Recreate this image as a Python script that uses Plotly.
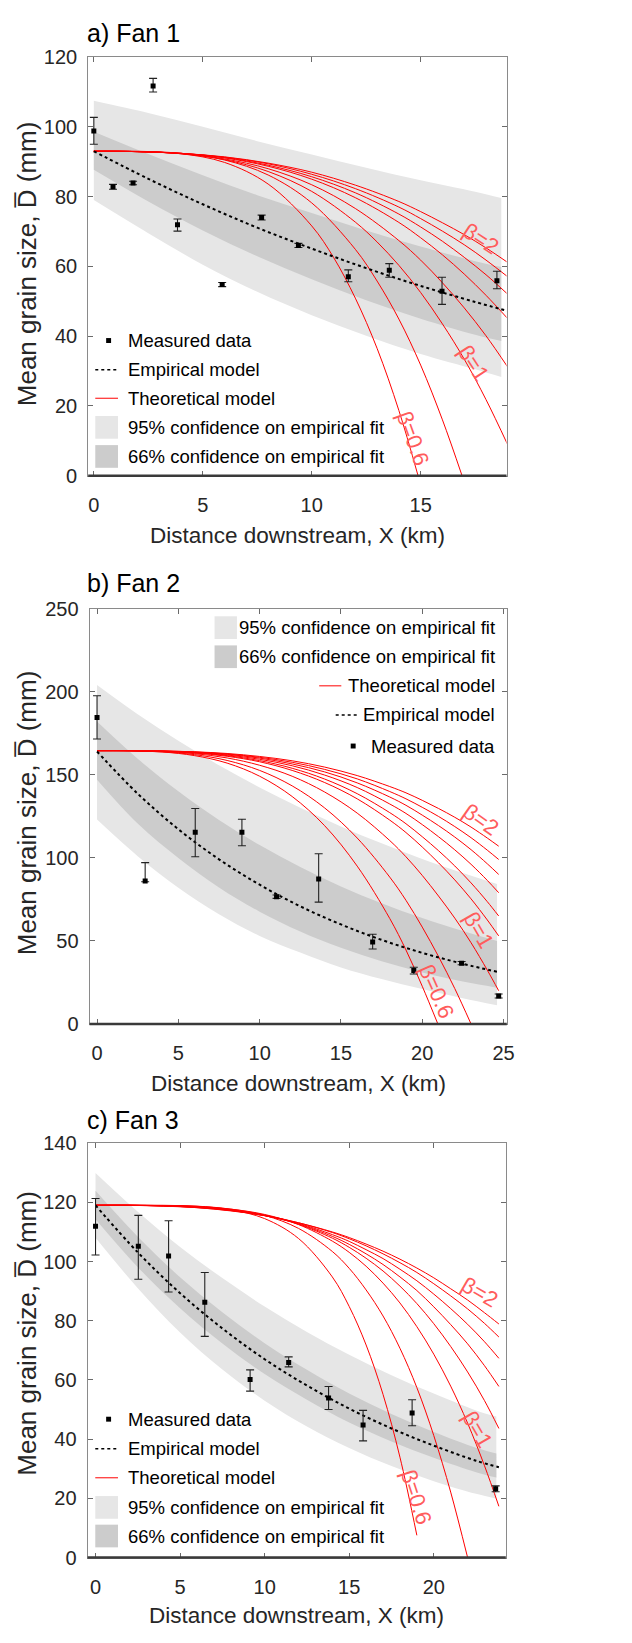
import plotly.graph_objects as go

W, H = 632, 1643

# ---------------- Fan 1 (panel a) ----------------
fan1_x = [0.0, 0.88, 1.8, 2.72, 3.84, 5.89, 7.7, 9.39, 11.68, 13.56, 15.98, 18.5]
fan1_d = [98.8, 82.8, 83.9, 111.7, 71.9, 54.8, 74.0, 66.0, 57.0, 58.9, 52.9, 55.9]
fan1_err_plus = [3.9, 0.7, 0.5, 2.2, 1.7, 0.6, 0.7, 0.6, 2.0, 1.9, 4.0, 2.7]
fan1_err_minus = [3.8, 0.7, 0.5, 1.7, 1.8, 0.6, 0.7, 0.6, 1.4, 2.0, 3.8, 2.3]
fan1_emp_x = [0, 2.5, 5, 7.5, 10, 12.5, 15, 17.5, 19]
fan1_emp_d = [93.0, 85.1, 77.8, 71.1, 65.1, 59.5, 54.4, 49.8, 47.2]
fan1_band_x = [0, 2.5, 5, 7.5, 10, 12.5, 15, 17.5, 18.7]
fan1_ci95_hi = [107.5, 104.0, 100.0, 95.9, 92.1, 88.3, 84.7, 81.4, 79.6]
fan1_ci95_lo = [79.0, 69.5, 60.5, 52.7, 46.0, 40.1, 34.9, 30.5, 28.3]
fan1_ci66_hi = [98.6, 92.2, 86.1, 80.4, 75.3, 70.3, 65.7, 61.5, 59.8]
fan1_ci66_lo = [87.7, 78.6, 70.3, 62.9, 56.3, 50.3, 45.0, 40.4, 38.6]
fan1_theory_x = [
    [0, 2, 4, 6, 8, 10, 11, 12, 13, 14, 14.88],
    [0, 2, 4, 6, 8, 10, 12, 13, 14, 15, 16, 16.9],
    [0, 2, 4, 6, 8, 10, 12, 13, 14, 15, 16, 17, 18, 19],
    [0, 2, 4, 6, 8, 10, 12, 14, 15, 16, 17, 18, 19],
    [0, 2, 4, 6, 8, 10, 12, 14, 15, 16, 17, 18, 19],
    [0, 2, 4, 6, 8, 10, 12, 14, 15, 16, 17, 18, 19],
    [0, 2, 4, 6, 8, 10, 12, 14, 15, 16, 17, 18, 19],
    [0, 2, 4, 6, 8, 10, 12, 14, 15, 16, 17, 18, 19],
]
fan1_theory_d = [
    [93, 92.9, 92.3, 89.8, 83.6, 71.6, 62.6, 50.9, 36.5, 18.7, 0],
    [93, 93.0, 92.4, 90.5, 86.2, 78.2, 64.9, 55.8, 44.9, 31.7, 16.0, 0],
    [93, 92.9, 92.3, 90.6, 87.2, 81.5, 72.7, 67.0, 60.3, 52.5, 43.5, 33.4, 21.8, 8.8],
    [93, 92.9, 92.3, 90.8, 88.0, 83.4, 76.6, 67.4, 61.8, 55.3, 48.1, 40.1, 31.1],
    [93, 92.9, 92.4, 91.1, 88.7, 85.0, 79.7, 72.6, 68.2, 63.3, 57.8, 51.7, 45.0],
    [93, 92.9, 92.4, 91.2, 89.0, 85.7, 81.1, 75.0, 71.3, 67.2, 62.6, 57.6, 52.0],
    [93, 92.9, 92.4, 91.3, 89.4, 86.4, 82.3, 77.0, 73.7, 70.1, 66.2, 61.8, 57.0],
    [93, 92.9, 92.4, 91.4, 89.6, 87.0, 83.3, 78.6, 75.7, 72.5, 69.1, 65.3, 61.1],
]

# ---------------- Fan 2 (panel b) ----------------
fan2_x = [0.0, 2.96, 6.04, 8.91, 11.04, 13.63, 16.95, 19.48, 22.42, 24.7]
fan2_d = [184.5, 86.1, 115.4, 115.4, 76.6, 87.3, 49.3, 32.1, 36.6, 16.8]
fan2_err_plus = [13.0, 11.0, 14.3, 7.8, 1.0, 15.1, 4.7, 2.0, 1.0, 1.2]
fan2_err_minus = [13.0, 0.5, 14.8, 8.1, 1.0, 14.0, 4.2, 2.0, 1.0, 1.2]
fan2_emp_x = [0, 2.5, 5, 7.5, 10, 12.5, 15, 17.5, 20, 22.5, 24.7]
fan2_emp_d = [164.0, 138.6, 117.2, 99.1, 83.8, 70.8, 59.9, 50.6, 42.8, 36.2, 31.2]
fan2_band_x = [0, 2.5, 5, 7.5, 10, 12.5, 15, 17.5, 20, 22.5, 24.6]
fan2_ci95_hi = [204.0, 186.4, 170.4, 155.7, 142.3, 130.1, 118.9, 108.7, 99.3, 90.8, 84.2]
fan2_ci95_lo = [123.0, 101.0, 82.0, 66.0, 53.0, 43.0, 34.0, 27.0, 21.0, 15.5, 11.3]
fan2_ci66_hi = [182.0, 159.6, 140.0, 122.8, 107.7, 94.5, 82.8, 72.7, 63.7, 55.9, 49.9]
fan2_ci66_lo = [147.0, 120.6, 99.9, 82.2, 67.6, 55.7, 45.8, 37.7, 31.0, 25.5, 21.8]
fan2_grid = [0, 2, 4, 6, 8, 10, 12, 14, 16, 18, 19, 20, 21, 22, 23, 24, 24.7]
fan2_theory_x = [
    [0, 2, 4, 6, 8, 10, 12, 14, 16, 18, 19, 20, 20.96],
    [0, 2, 4, 6, 8, 10, 12, 14, 16, 18, 19, 20, 21, 22, 23],
    fan2_grid, fan2_grid, fan2_grid, fan2_grid, fan2_grid, fan2_grid, fan2_grid,
]
fan2_theory_d = [
    [164.5, 164.4, 163.7, 161.5, 157.0, 149.1, 136.9, 119.3, 95.0, 63.5, 44.5, 22.7, 0],
    [164.5, 164.4, 163.8, 162.1, 158.6, 152.6, 143.3, 130.0, 111.9, 88.4, 74.4, 58.3, 40.6, 21.3, 0],
    [164.5, 164.4, 164.0, 162.7, 160.1, 155.7, 149.1, 139.6, 126.9, 110.4, 100.6, 89.4, 77.0, 63.7, 48.9, 32.4, 20.0],
    [164.5, 164.5, 164.1, 163.1, 161.1, 157.8, 152.6, 145.3, 135.5, 122.7, 115.2, 106.5, 97.0, 86.7, 75.3, 62.6, 53.0],
    [164.5, 164.5, 164.2, 163.3, 161.5, 158.5, 153.9, 147.4, 138.6, 127.2, 120.5, 112.7, 104.3, 95.1, 84.9, 73.6, 65.0],
    [164.5, 164.5, 164.2, 163.4, 161.9, 159.3, 155.4, 149.8, 142.3, 132.4, 126.7, 120.0, 112.7, 104.8, 96.1, 86.4, 79.0],
    [164.5, 164.5, 164.2, 163.6, 162.3, 160.0, 156.5, 151.7, 145.1, 136.6, 131.6, 125.7, 119.4, 112.5, 104.9, 96.4, 90.0],
    [164.5, 164.5, 164.3, 163.7, 162.5, 160.5, 157.5, 153.2, 147.5, 139.9, 135.5, 130.4, 124.9, 118.8, 112.1, 104.6, 99.0],
    [164.5, 164.5, 164.3, 163.8, 162.8, 161.0, 158.4, 154.6, 149.5, 142.9, 139.1, 134.6, 129.7, 124.4, 118.5, 111.9, 107.0],
]

# ---------------- Fan 3 (panel c) ----------------
fan3_x = [0.0, 2.53, 4.32, 6.46, 9.14, 11.42, 13.78, 15.82, 18.72, 23.66]
fan3_d = [111.9, 105.2, 101.9, 86.2, 60.1, 65.9, 53.9, 44.8, 48.8, 23.2]
fan3_err_plus = [9.4, 10.4, 11.9, 10.1, 3.3, 1.9, 3.9, 4.9, 4.5, 1.0]
fan3_err_minus = [9.7, 11.2, 12.2, 11.5, 3.9, 1.5, 3.9, 5.4, 4.3, 1.0]
fan3_emp_x = [0, 2.5, 5, 7.5, 10, 12.5, 15, 17.5, 20, 22.5, 23.85]
fan3_emp_d = [119.0, 103.1, 89.3, 77.4, 67.0, 58.1, 50.3, 43.6, 37.8, 32.7, 30.5]
fan3_band_x = [0, 2.5, 5, 7.5, 10, 12.5, 15, 17.5, 20, 22.5, 23.7]
fan3_ci95_hi = [129.9, 116.8, 104.9, 94.4, 84.8, 76.2, 68.5, 61.6, 55.4, 49.7, 47.6]
fan3_ci95_lo = [108.0, 91.0, 76.0, 63.5, 53.0, 44.3, 37.0, 30.9, 25.8, 21.5, 19.9]
fan3_ci66_hi = [123.9, 108.4, 94.7, 82.9, 72.4, 63.4, 55.4, 48.5, 42.4, 37.1, 35.1]
fan3_ci66_lo = [114.3, 98.1, 84.2, 72.3, 62.0, 53.3, 45.6, 39.2, 33.7, 28.8, 27.0]
fan3_grid = [0, 2, 4, 6, 8, 10, 12, 14, 15, 16, 17, 18, 19, 20, 21, 22, 23, 23.85]
fan3_theory_x = [
    [0, 2, 4, 6, 8, 10, 12, 14, 15, 16, 17, 18, 19],
    [0, 2, 4, 6, 8, 10, 12, 14, 15, 16, 17, 18, 19, 20, 21, 22],
    fan3_grid, fan3_grid, fan3_grid, fan3_grid, fan3_grid, fan3_grid,
]
fan3_theory_d = [
    [119, 119, 119, 118.65, 117.5, 114.5, 107.8, 94.8, 84.8, 71.8, 55.1, 33.9, 7.5],
    [119, 119, 118.9, 118.7, 117.7, 115.6, 111.2, 103.4, 97.7, 90.4, 81.6, 70.7, 57.4, 41.2, 22.1, 0],
    [119, 119, 118.9, 118.6, 117.7, 115.9, 112.5, 106.9, 103.1, 98.4, 92.7, 86.0, 78.0, 68.7, 57.9, 45.4, 31.0, 17.3],
    [119, 119, 118.9, 118.5, 117.5, 115.7, 112.6, 107.9, 104.8, 101.1, 96.8, 91.7, 85.8, 79.0, 71.3, 62.7, 53.0, 43.6],
    [119, 119, 118.8, 118.4, 117.3, 115.5, 112.7, 108.5, 105.8, 102.6, 99.0, 94.8, 90.2, 84.7, 78.7, 72.2, 64.8, 57.8],
    [119, 119, 118.8, 118.3, 117.3, 115.5, 112.9, 109.1, 106.8, 104.0, 101.0, 97.4, 93.5, 89.0, 84.1, 78.8, 72.9, 67.3],
    [119, 119, 118.8, 118.2, 117.2, 115.6, 113.1, 109.8, 107.7, 105.3, 102.6, 99.6, 96.3, 92.5, 88.4, 84.0, 79.1, 74.5],
    [119, 119, 118.7, 118.2, 117.1, 115.5, 113.1, 110.0, 108.1, 105.9, 103.5, 100.8, 97.8, 94.5, 90.8, 87.0, 82.7, 78.9],
]

# tick labels / ranges
fan1_xticks = [0, 5, 10, 15]
fan1_yticks = [0, 20, 40, 60, 80, 100, 120]
fan2_xticks = [0, 5, 10, 15, 20, 25]
fan2_yticks = [0, 50, 100, 150, 200, 250]
fan3_xticks = [0, 5, 10, 15, 20]
fan3_yticks = [0, 20, 40, 60, 80, 100, 120, 140]

LIGHT = "#e6e6e6"
DARK = "#cccccc"
RED = "#ff0000"
LABEL_RED = "#ff5c5c"
REG = "Liberation Sans, Arial, sans-serif"
TICK_SIZE = 20
LEG_SIZE = 18.5


def pxx(v):
    return v / W


def pxy(v):
    return 1 - v / H


fig = go.Figure()

panels = [
    dict(ax="", x=fan1_x, d=fan1_d, ep=fan1_err_plus, em=fan1_err_minus,
         ex=fan1_emp_x, ed=fan1_emp_d, bx=fan1_band_x,
         h95=fan1_ci95_hi, l95=fan1_ci95_lo, h66=fan1_ci66_hi, l66=fan1_ci66_lo,
         tx=fan1_theory_x, td=fan1_theory_d,
         xdom=(89.3, 513.0), ydom=(471.0, 46.7), xr=[-0.26, 18.94], yr=[0, 120],
         xt=fan1_xticks, yt=fan1_yticks),
    dict(ax="2", x=fan2_x, d=fan2_d, ep=fan2_err_plus, em=fan2_err_minus,
         ex=fan2_emp_x, ed=fan2_emp_d, bx=fan2_band_x,
         h95=fan2_ci95_hi, l95=fan2_ci95_lo, h66=fan2_ci66_hi, l66=fan2_ci66_lo,
         tx=fan2_theory_x, td=fan2_theory_d,
         xdom=(90.7, 513.3), ydom=(1026.7, 605.7), xr=[-0.46, 25.2], yr=[0, 250],
         xt=fan2_xticks, yt=fan2_yticks),
    dict(ax="3", x=fan3_x, d=fan3_d, ep=fan3_err_plus, em=fan3_err_minus,
         ex=fan3_emp_x, ed=fan3_emp_d, bx=fan3_band_x,
         h95=fan3_ci95_hi, l95=fan3_ci95_lo, h66=fan3_ci66_hi, l66=fan3_ci66_lo,
         tx=fan3_theory_x, td=fan3_theory_d,
         xdom=(88.7, 512.3), ydom=(1567.5, 1147.5), xr=[-0.47, 24.26], yr=[0, 140],
         xt=fan3_xticks, yt=fan3_yticks),
]

shapes = []
annotations = []

for p in panels:
    xa = "x" + p["ax"]
    ya = "y" + p["ax"]
    common = dict(xaxis=xa, yaxis=ya, showlegend=False, hoverinfo="skip")
    # 95% band
    fig.add_trace(go.Scatter(x=p["bx"], y=p["l95"], mode="lines", line=dict(width=0, shape="spline"), **common))
    fig.add_trace(go.Scatter(x=p["bx"], y=p["h95"], mode="lines", line=dict(width=0, shape="spline"),
                             fill="tonexty", fillcolor=LIGHT, **common))
    # 66% band
    fig.add_trace(go.Scatter(x=p["bx"], y=p["l66"], mode="lines", line=dict(width=0, shape="spline"), **common))
    fig.add_trace(go.Scatter(x=p["bx"], y=p["h66"], mode="lines", line=dict(width=0, shape="spline"),
                             fill="tonexty", fillcolor=DARK, **common))
    # theoretical curves
    for cx, cd in zip(p["tx"], p["td"]):
        fig.add_trace(go.Scatter(x=cx, y=cd, mode="lines",
                                 line=dict(color=RED, width=1, shape="spline", smoothing=1.0), **common))
    # empirical model
    fig.add_trace(go.Scatter(x=p["ex"], y=p["ed"], mode="lines",
                             line=dict(color="black", width=2, dash="dot", shape="spline"), **common))
    # measured data
    fig.add_trace(go.Scatter(x=p["x"], y=p["d"], mode="markers",
                             marker=dict(symbol="square", size=5, color="black"),
                             error_y=dict(type="data", array=p["ep"], arrayminus=p["em"],
                                          color="#222222", thickness=1.1, width=4),
                             **common))
    axis_common = dict(showgrid=False, zeroline=False, showline=True, linecolor="#8a8a8a",
                       linewidth=1, mirror="ticks", ticks="inside", ticklen=5, tickcolor="#6a6a6a",
                       tickfont=dict(family=REG, size=TICK_SIZE, color="#262626"))
    fig.update_layout(**{
        "xaxis" + p["ax"]: dict(domain=[pxx(p["xdom"][0]), pxx(p["xdom"][1])], range=p["xr"],
                                tickvals=p["xt"], anchor=ya, ticklabelstandoff=11, **axis_common),
        "yaxis" + p["ax"]: dict(domain=[pxy(p["ydom"][0]), pxy(p["ydom"][1])], range=p["yr"],
                                tickvals=p["yt"], anchor=xa, ticklabelstandoff=6, **axis_common),
    })
    # thick bottom axis line
    shapes.append(dict(type="line", xref=xa + " domain", yref=ya + " domain", x0=0, x1=1, y0=0, y1=0,
                       line=dict(color="#3a3a3a", width=2.5)))

# titles, axis labels
titles = [("a) Fan 1", 22.5), ("b) Fan 2", 580.0), ("c) Fan 3", 1124.0)]
for t, yc in titles:
    annotations.append(dict(text=t, x=pxx(86.5), y=pxy(yc), xref="paper", yref="paper",
                            xanchor="left", yanchor="middle", showarrow=False,
                            font=dict(family=REG, size=25, color="black")))
xlabels = [(301.0, 531.7), (302.0, 1087.0), (300.5, 1626.7)]
for xc, yc in xlabels:
    annotations.append(dict(text="Distance downstream, X (km)", x=pxx(xc), y=pxy(yc),
                            xref="paper", yref="paper", xanchor="center", yanchor="middle",
                            showarrow=False, font=dict(family=REG, size=22.5, color="#262626")))
ylabels = [256.0, 812.5, 1340.0]
for yc in ylabels:
    annotations.append(dict(text="Mean grain size, D\u0305 (mm)", x=pxx(27.0), y=pxy(yc),
                            xref="paper", yref="paper", xanchor="center", yanchor="middle",
                            textangle=-90, showarrow=False,
                            font=dict(family=REG, size=26, color="#262626")))

# beta labels (data coordinates)
beta_labels = [
    ("", "\u03b2=2", 17.75, 68.0, 33), ("", "\u03b2=1", 17.45, 32.3, 57), ("", "\u03b2=0.6", 14.65, 10.7, 70),
    ("2", "\u03b2=2", 23.6, 123.0, 35), ("2", "\u03b2=1", 23.5, 56.4, 60), ("2", "\u03b2=0.6", 20.9, 19.8, 66),
    ("3", "\u03b2=2", 22.76, 89.7, 30), ("3", "\u03b2=1", 22.57, 43.1, 60), ("3", "\u03b2=0.6", 18.97, 20.3, 72),
]
for ax, t, bx_, by_, ang in beta_labels:
    annotations.append(dict(text=t, x=bx_, y=by_, xref="x" + ax, yref="y" + ax,
                            showarrow=False, textangle=ang, xanchor="center", yanchor="middle",
                            font=dict(family=REG, size=22, color=LABEL_RED)))


# ---------- legends (drawn manually) ----------
def legend_marker(xc, yc):
    shapes.append(dict(type="rect", xref="paper", yref="paper",
                       x0=pxx(xc - 2.5), x1=pxx(xc + 2.5), y0=pxy(yc + 2.5), y1=pxy(yc - 2.5),
                       fillcolor="black", line=dict(width=0)))


def legend_line(x0, x1, yc, color, dash, width):
    shapes.append(dict(type="line", xref="paper", yref="paper",
                       x0=pxx(x0), x1=pxx(x1), y0=pxy(yc), y1=pxy(yc),
                       line=dict(color=color, width=width, dash=dash)))


def legend_rect(x0, x1, y0, y1, color):
    shapes.append(dict(type="rect", xref="paper", yref="paper",
                       x0=pxx(x0), x1=pxx(x1), y0=pxy(y1), y1=pxy(y0),
                       fillcolor=color, line=dict(width=0)))


def legend_text(t, x, yc, anchor):
    annotations.append(dict(text=t, x=pxx(x), y=pxy(yc), xref="paper", yref="paper",
                            xanchor=anchor, yanchor="middle", showarrow=False,
                            font=dict(family=REG, size=LEG_SIZE, color="black")))


LEG = ["Measured data", "Empirical model", "Theoretical model",
       "95% confidence on empirical fit", "66% confidence on empirical fit"]

# panel a & c: lower-left, left aligned
for rows in ([334.0, 363.5, 392.5, 422.0, 451.5], [1427.3, 1457.3, 1486.7, 1516.7, 1545.7]):
    legend_marker(110.0, rows[0])
    legend_line(96.5, 119.5, rows[1], "black", "dot", 1.5)
    legend_line(96.5, 119.5, rows[2], RED, "solid", 1)
    legend_rect(96.5, 119.5, rows[3] - 11.5, rows[3] + 11.5, LIGHT)
    legend_rect(96.5, 119.5, rows[4] - 11.5, rows[4] + 11.5, DARK)
    for t, yc in zip(LEG, rows):
        legend_text(t, 127.5, yc, "left")

# panel b: upper-right, right aligned, reversed order
rb = [625.0, 654.5, 684.0, 713.5, 745.0]
legend_rect(217.3, 240.0, rb[0] - 11.5, rb[0] + 11.5, LIGHT)
legend_rect(217.3, 240.0, rb[1] - 11.5, rb[1] + 11.5, DARK)
legend_line(323.3, 345.7, rb[2], RED, "solid", 1)
legend_line(340.0, 362.3, rb[3], "black", "dot", 1.5)
legend_marker(357.7, rb[4])
for t, yc in zip([LEG[3], LEG[4], LEG[2], LEG[1], LEG[0]], rb):
    legend_text(t, 503.5, yc, "right")

fig.update_layout(width=W, height=H, margin=dict(l=0, r=0, t=0, b=0),
                  paper_bgcolor="white", plot_bgcolor="white",
                  shapes=shapes, annotations=annotations, showlegend=False)

fig.write_html("out.html")
